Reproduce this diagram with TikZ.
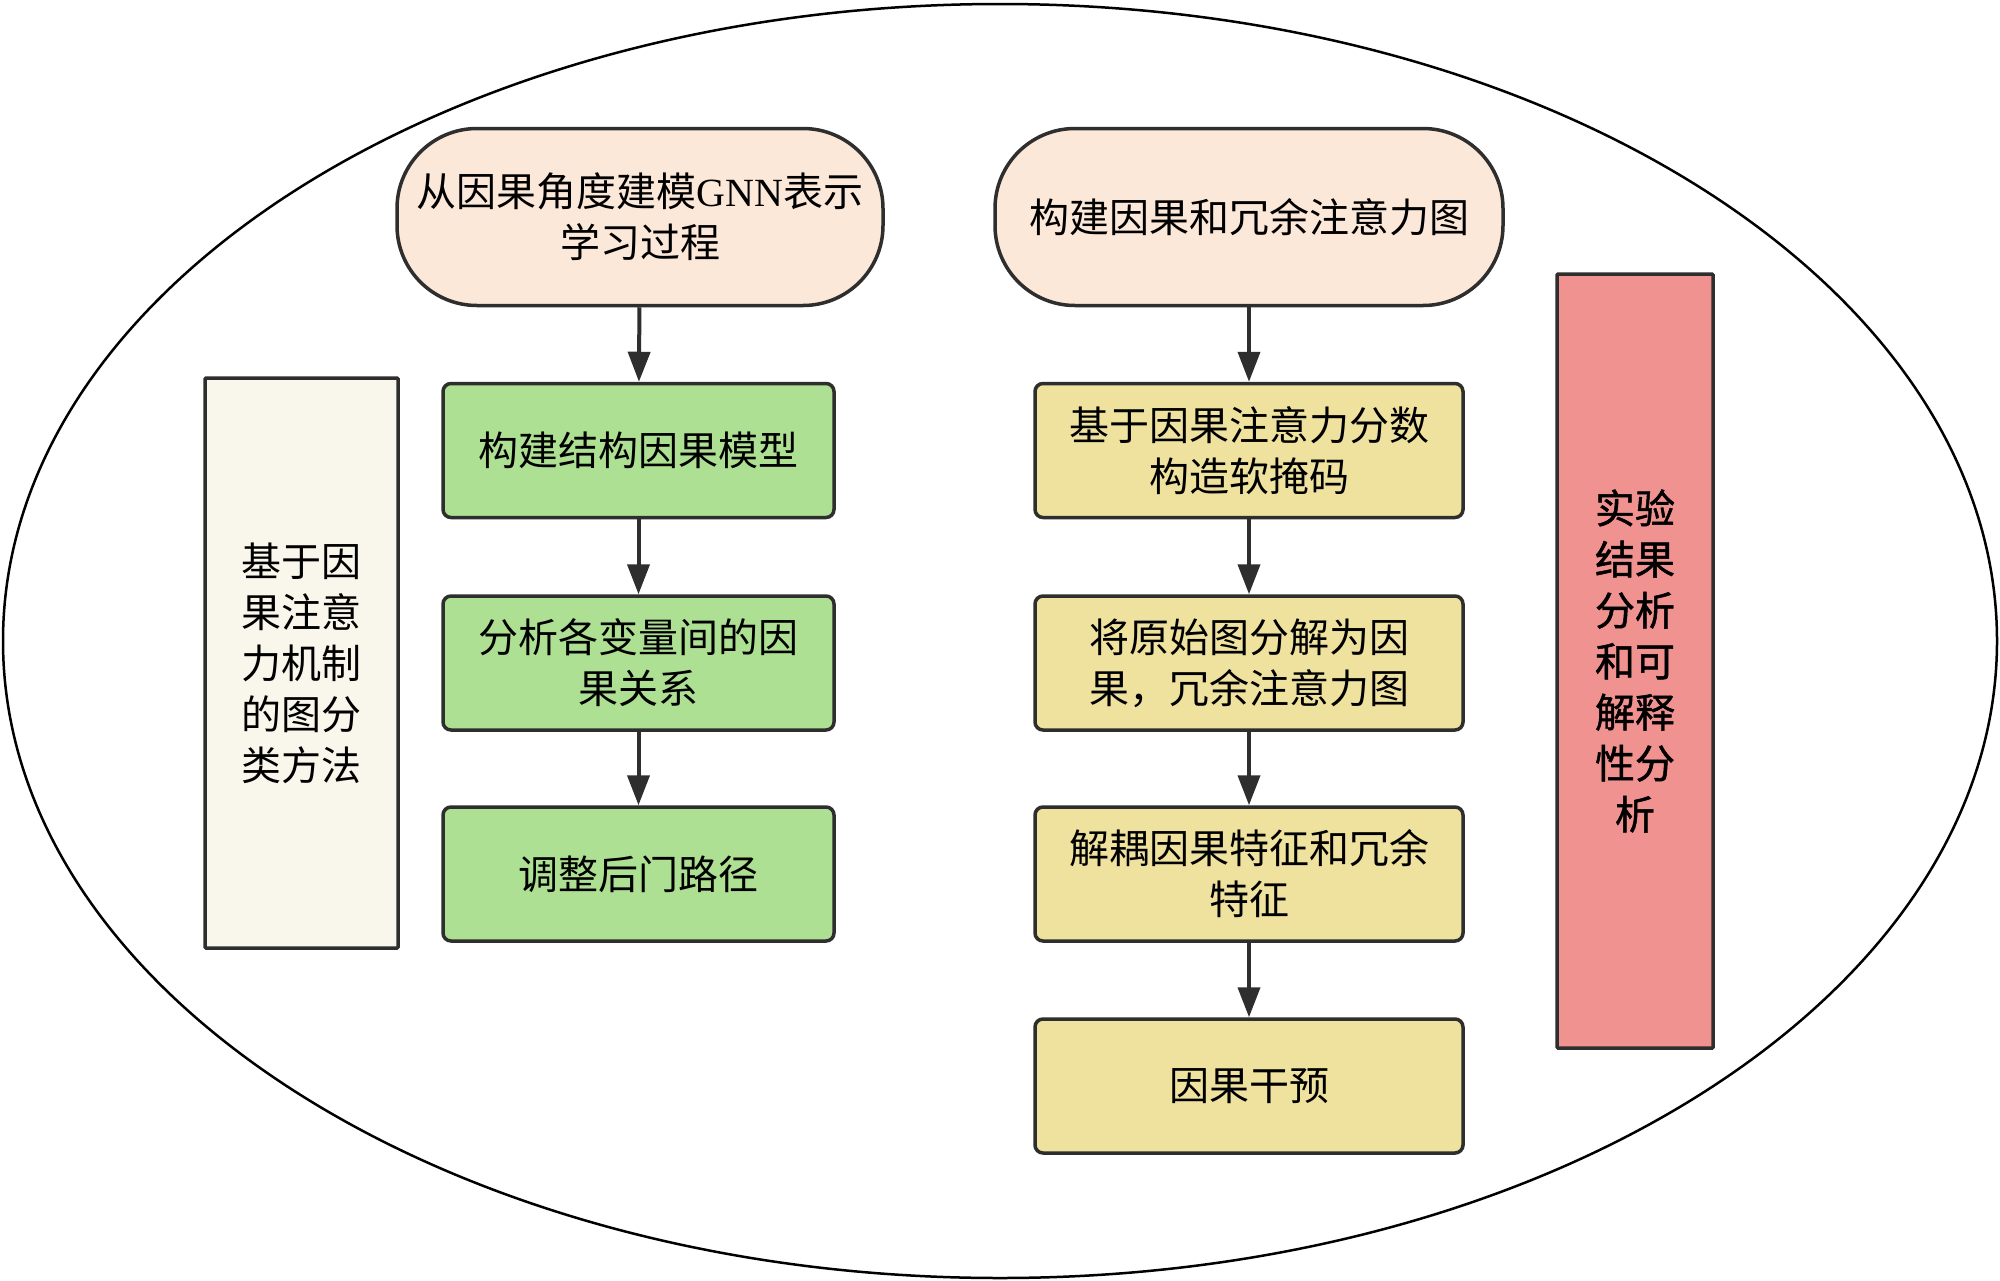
\documentclass[tikz,border=0pt]{standalone}
\usepackage{fontspec}
\setmainfont{Noto Sans CJK SC}
\newfontfamily\semibold[FakeBold=1.2]{Noto Sans CJK SC}
\newfontfamily\latfont{Liberation Serif}
\usetikzlibrary{arrows.meta}
\definecolor{boxline}{HTML}{2E2E2E}
\definecolor{peach}{HTML}{FCE8D9}
\definecolor{grn}{HTML}{ADE092}
\definecolor{ylw}{HTML}{EFE29F}
\definecolor{beige}{HTML}{F9F7EB}
\definecolor{redbox}{HTML}{F09290}
\begin{document}
\begin{tikzpicture}[x=1pt,y=-1pt,
  base/.style={draw=boxline, line width=3.5pt, inner sep=0pt, align=center,
    font=\fontsize{40}{51}\selectfont, text=black},
  stadium/.style={base, fill=peach, rounded corners=80pt, minimum height=177pt},
  greenbox/.style={base, fill=grn, rounded corners=8pt, minimum width=391pt, minimum height=134pt},
  yellowbox/.style={base, fill=ylw, rounded corners=8pt, minimum width=428pt, minimum height=134pt},
  sidebox/.style={base, rounded corners=1pt},
  arr/.style={draw=boxline, line width=4pt, -{Triangle[width=22pt,length=30pt]}}
]
\useasboundingbox (0,0) rectangle (2000,1280);
\fill[white] (0,0) rectangle (2000,1280);
\draw[line width=2.5pt] (1000,641) ellipse [x radius=997pt, y radius=637pt];

% left column
\node[stadium, minimum width=486pt] (s1) at (640,217) {从因果角度建模{\latfont GNN}表示\\学习过程};
\node[greenbox] (g1) at (638.5,450.5) {构建结构因果模型};
\node[greenbox] (g2) at (638.5,663) {分析各变量间的因\\果关系};
\node[greenbox] (g3) at (638.5,874) {调整后门路径};

% right column
\node[stadium, minimum width=508pt] (s2) at (1249,217) {构建因果和冗余注意力图};
\node[yellowbox] (y1) at (1249,450.5) {基于因果注意力分数\\构造软掩码};
\node[yellowbox] (y2) at (1249,663) {将原始图分解为因\\果，冗余注意力图};
\node[yellowbox] (y3) at (1249,874) {解耦因果特征和冗余\\特征};
\node[yellowbox] (y4) at (1249,1086) {因果干预};

% side boxes
\node[sidebox, fill=beige, minimum width=193pt, minimum height=570pt] (lb) at (301.5,663)
  {基于因\\果注意\\力机制\\的图分\\类方法};
\node[sidebox, fill=redbox, minimum width=156pt, minimum height=774pt,
  font=\fontsize{40}{51}\semibold] (rb) at (1635,661)
  {实验\\结果\\分析\\和可\\解释\\性分\\析};

% arrows
\draw[arr] (s1) -- (g1);
\draw[arr] (g1) -- (g2);
\draw[arr] (g2) -- (g3);
\draw[arr] (s2) -- (y1);
\draw[arr] (y1) -- (y2);
\draw[arr] (y2) -- (y3);
\draw[arr] (y3) -- (y4);
\end{tikzpicture}
\end{document}
